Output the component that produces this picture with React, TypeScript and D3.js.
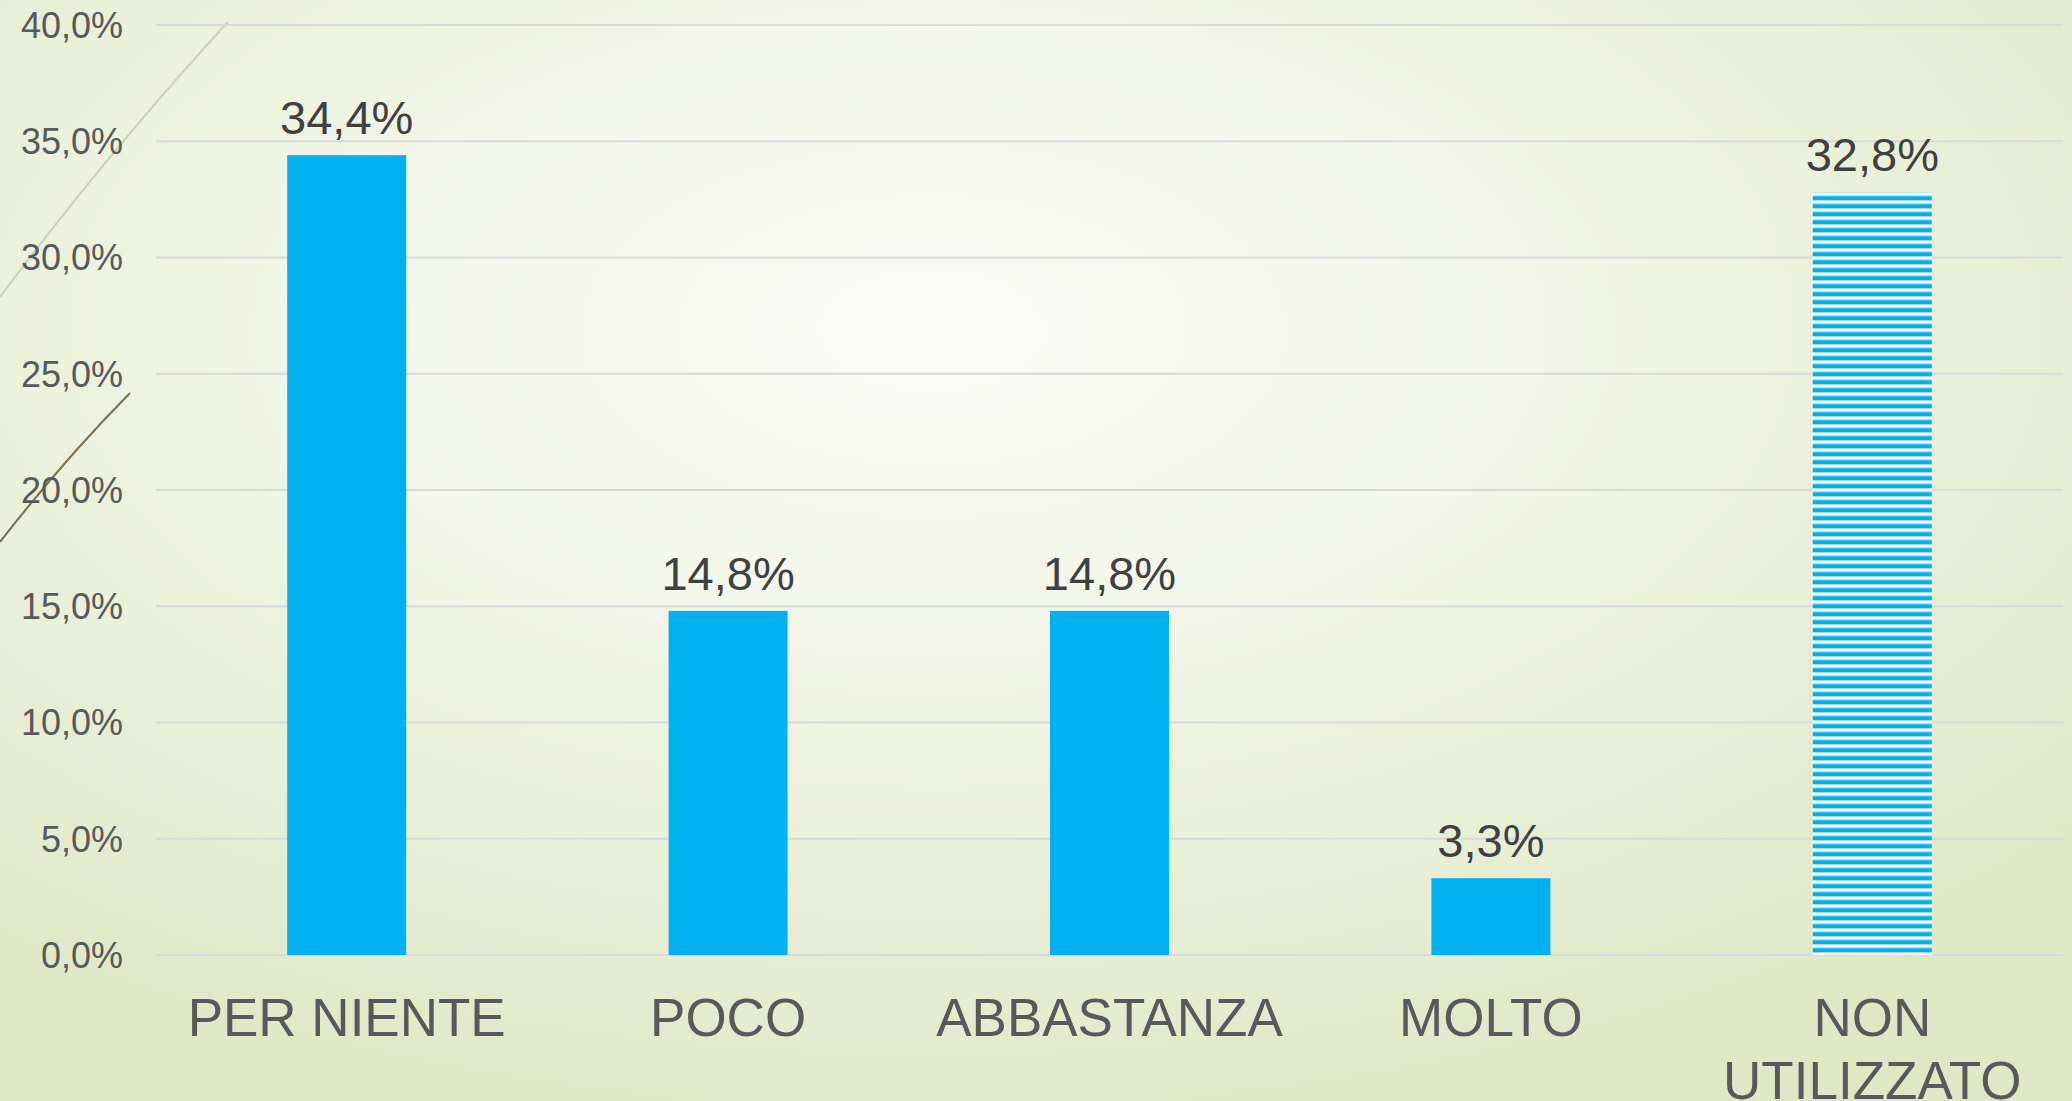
import React, { FC } from 'react';
import * as d3 from 'd3';

/* Risposte e percentuali */
const categories: string[] = ['PER NIENTE', 'POCO', 'ABBASTANZA', 'MOLTO', 'NON UTILIZZATO'];
const values: number[] = [34.4, 14.8, 14.8, 3.3, 32.8];
const hatched: boolean[] = [false, false, false, false, true];
const yTicks: number[] = [0, 5, 10, 15, 20, 25, 30, 35, 40];

const itLocale = d3.formatLocale({
  decimal: ',',
  thousands: '.',
  grouping: [3],
  currency: ['€', ''],
});
const pct = itLocale.format('.1%');

type Margin = { left: number; top: number; right: number; bottom: number };

const FONT = '"Liberation Sans", Arial, sans-serif';
const BLUE = '#00B0F0';

const App: FC = () => {
  const width = 2072;
  const height = 1101;
  const margin: Margin = { left: 156, top: 25, right: 9, bottom: 146 };

  const x = d3
    .scaleBand<string>()
    .domain(categories)
    .range([margin.left, width - margin.right])
    .paddingInner(0.688)
    .paddingOuter(0.344);

  const y = d3
    .scaleLinear()
    .domain([0, 40])
    .range([height - margin.bottom, margin.top]);

  // split long labels over two lines
  const wrap = (s: string): string[] => (s.length > 11 ? s.split(' ') : [s]);

  return (
    <svg
      width={width}
      height={height}
      style={{ position: 'absolute', left: 0, top: 0, display: 'block' }}
      fontFamily={FONT}
    >
      <defs>
        <radialGradient id="bg" cx="0.45" cy="0.3" r="0.75" gradientUnits="objectBoundingBox">
          <stop offset="0" stopColor="#FBFBF8" />
          <stop offset="0.35" stopColor="#F3F6EA" />
          <stop offset="1" stopColor="#DFE7C5" />
        </radialGradient>
        <pattern id="stripes" patternUnits="userSpaceOnUse" width={8} height={8} y={y(values[4])}>
          <rect width={8} height={8} fill="#FFFFFF" />
          <rect y={3.5} width={8} height={4.5} fill={BLUE} />
        </pattern>
      </defs>

      <rect width={width} height={height} fill="url(#bg)" />

      {/* decorative strokes at the left edge */}
      <path d="M0,297 Q110,150 228,22" fill="none" stroke="#CDD1BC" strokeWidth={2} />
      <path d="M0,542 Q62,462 130,393" fill="none" stroke="#786E4E" strokeWidth={2} />

      <g id="grid">
        {yTicks.map((t) => (
          <line
            key={t}
            x1={margin.left}
            x2={width - margin.right}
            y1={y(t)}
            y2={y(t)}
            stroke="#D9D9D9"
            strokeWidth={2}
          />
        ))}
      </g>

      <g id="y-axis" fill="#595959" fontSize={36} textAnchor="end">
        {yTicks.map((t) => (
          <text key={t} x={123} y={y(t)} dy="0.36em">
            {pct(t / 100)}
          </text>
        ))}
      </g>

      <g id="bars">
        {categories.map((c, i) => (
          <rect
            key={c}
            x={x(c)}
            y={y(values[i])}
            width={x.bandwidth()}
            height={y(0) - y(values[i])}
            fill={hatched[i] ? 'url(#stripes)' : BLUE}
          />
        ))}
      </g>

      <g id="labels" fill="#404040" fontSize={47} textAnchor="middle">
        {categories.map((c, i) => (
          <text key={c} x={(x(c) as number) + x.bandwidth() / 2} y={y(values[i]) - 21}>
            {pct(values[i] / 100)}
          </text>
        ))}
      </g>

      <g id="x-axis" fill="#595959" fontSize={53} textAnchor="middle">
        {categories.map((c) => (
          <text key={c} x={(x(c) as number) + x.bandwidth() / 2} y={y(0) + 81}>
            {wrap(c).map((line, j) => (
              <tspan key={j} x={(x(c) as number) + x.bandwidth() / 2} dy={j === 0 ? 0 : 63}>
                {line}
              </tspan>
            ))}
          </text>
        ))}
      </g>
    </svg>
  );
};

export default App;
